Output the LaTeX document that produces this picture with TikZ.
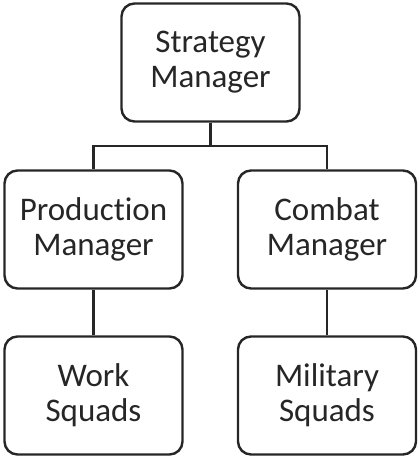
\documentclass[tikz,border=0pt]{standalone}
\usepackage{fontspec}
\setmainfont[Ligatures=NoCommon]{Carlito}
\usepackage{tikz}
\usetikzlibrary{positioning}
\definecolor{dline}{HTML}{262626}

\begin{document}
\begin{tikzpicture}[x=1pt,y=1pt,
    mgrbox/.style={draw=dline, line width=2.4pt, rounded corners=13pt,
                   minimum width=178pt, minimum height=118pt,
                   align=center, text=dline,
                   font=\fontsize{33}{35}\selectfont},
    link/.style={draw=dline, line width=2.4pt}]

  \useasboundingbox (0,0) rectangle (420,-456);

  % ----- caixas -----
  \node[mgrbox] (strat)    at (210.5,-62.5) {Strategy\\Manager};
  \node[mgrbox] (prod)     at (93.5,-229.5) {Production\\Manager};
  \node[mgrbox] (combat)   at (327,-229.5)  {Combat\\Manager};
  \node[mgrbox] (work)     at (93.5,-395.5) {Work\\Squads};
  \node[mgrbox] (military) at (327,-395.5)  {Military\\Squads};

  % ----- ligações -----
  \draw[link] (strat.south) -- ++(0,-23) -| (prod.north);
  \draw[link] (strat.south) -- ++(0,-23) -| (combat.north);
  \draw[link] (prod.south) -- (work.north);
  \draw[link] (combat.south) -- (military.north);

\end{tikzpicture}
\end{document}
